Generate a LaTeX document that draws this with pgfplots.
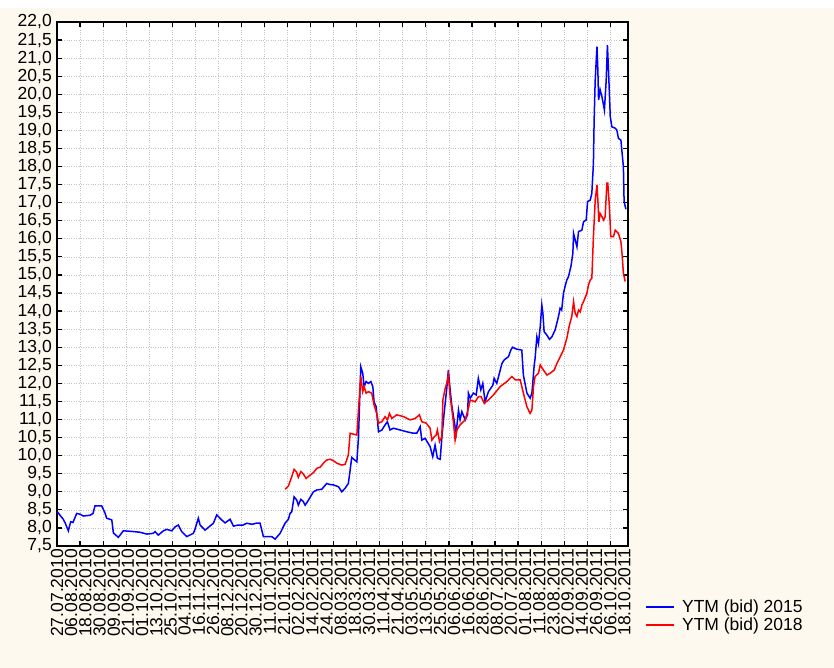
\documentclass[border=0pt]{standalone}
\usepackage{fontspec}
\setmainfont{Liberation Sans}
\usepackage{pgfplots}
\pgfplotsset{compat=1.18}
\definecolor{bgcream}{RGB}{253,249,239}
\definecolor{gridgray}{RGB}{195,195,195}
\begin{document}
\begin{tikzpicture}[x=1pt,y=1pt]
\fill[bgcream] (0,0) rectangle (834,668);
\fill[white] (0,660) rectangle (834,668);
\useasboundingbox (0,0) rectangle (834,668);
\begin{axis}[
  at={(57pt,122pt)}, anchor=south west,
  scale only axis, width=571pt, height=524pt,
  xmin=0, xmax=322, ymin=7.5, ymax=22,
  axis background/.style={fill=white},
  axis line style={line width=1.5pt, black},
  font=\fontsize{17.5}{19}\selectfont,
  tick align=inside,
  major tick length=0pt, minor tick length=5pt,
  every minor tick/.append style={line width=1.2pt, black},
  xtick={0,8,...,320},
  xticklabels={27.07.2010,06.08.2010,18.08.2010,30.08.2010,09.09.2010,21.09.2010,01.10.2010,13.10.2010,25.10.2010,04.11.2010,16.11.2010,26.11.2010,08.12.2010,20.12.2010,30.12.2010,11.01.2011,21.01.2011,02.02.2011,14.02.2011,24.02.2011,08.03.2011,18.03.2011,30.03.2011,11.04.2011,21.04.2011,03.05.2011,13.05.2011,25.05.2011,06.06.2011,16.06.2011,28.06.2011,08.07.2011,20.07.2011,01.08.2011,11.08.2011,23.08.2011,02.09.2011,14.09.2011,26.09.2011,06.10.2011,18.10.2011},
  x tick label style={rotate=90, anchor=east, inner sep=3pt},
  minor xtick={0,13,...,312},
  ytick distance=0.5,
  minor ytick={7.5,8,...,22},
  y tick label style={inner sep=5pt, /pgf/number format/fixed, /pgf/number format/fixed zerofill, /pgf/number format/precision=1, /pgf/number format/use comma, /pgf/number format/assume math mode=true},
  xmajorgrids=false, ymajorgrids=false, xminorgrids=true, yminorgrids=true,
  minor grid style={gridgray, dotted, line width=0.7pt},
  legend style={at={(axis description cs:1.025,-0.095)}, anchor=north west, draw=none, fill=none, font=\fontsize{17.5}{19}\selectfont},
  legend cell align=left,
  legend image code/.code={\draw[#1] (0pt,0pt) -- (28pt,0pt);},
]
\addlegendimage{draw=blue, line width=1.6pt}
\addlegendentry{\hspace{5pt}YTM (bid) 2015}
\addlegendimage{draw=red, line width=1.6pt}
\addlegendentry{\hspace{5pt}YTM (bid) 2018}
\addplot[blue, line width=1.5pt, forget plot] coordinates {
(0.2,8.45)(1.7,8.35)(3.4,8.25)(4.5,8.15)(6.4,7.92)(7.7,8.17)(9.0,8.15)(11.1,8.40)(13.0,8.38)(14.8,8.33)(18.6,8.35)(20.3,8.40)(21.4,8.61)(25.2,8.61)(27.1,8.41)(28.0,8.27)(30.9,8.22)(31.8,7.86)(34.6,7.74)(37.4,7.92)(43.0,7.90)(46.8,7.88)(50.6,7.83)(54.3,7.85)(55.3,7.90)(57.1,7.80)(60.0,7.92)(61.9,7.96)(64.7,7.92)(66.6,8.03)(68.4,8.08)(70.3,7.90)(73.2,7.76)(76.9,7.85)(77.8,7.96)(79.7,8.27)(80.7,8.08)(83.5,7.94)(88.2,8.13)(90.1,8.36)(92.9,8.22)(94.8,8.14)(97.6,8.24)(99.5,8.05)(102.1,8.08)(104.9,8.08)(107.0,8.13)(110.0,8.10)(112.3,8.13)(114.5,8.13)(116.4,7.76)(121.1,7.76)(123.0,7.69)(125.8,7.85)(128.6,8.13)(130.5,8.24)(131.4,8.40)(132.4,8.45)(133.7,8.86)(135.2,8.77)(136.1,8.63)(137.5,8.79)(138.9,8.73)(139.9,8.63)(141.8,8.77)(144.6,9.00)(146.5,9.05)(149.3,9.07)(152.1,9.23)(154.0,9.20)(155.9,9.19)(158.7,9.14)(160.6,9.00)(162.5,9.10)(164.3,9.23)(165.3,9.60)(166.2,9.95)(169.1,9.83)(170.0,10.50)(171.3,12.46)(172.4,12.28)(173.2,11.91)(174.3,12.05)(175.6,12.00)(177.0,12.05)(178.1,11.91)(178.8,11.49)(180.0,11.35)(181.3,10.66)(183.2,10.71)(185.0,10.85)(186.3,10.94)(187.8,10.71)(189.7,10.76)(193.5,10.71)(197.3,10.66)(201.0,10.62)(202.9,10.62)(204.8,10.80)(205.7,10.43)(207.6,10.48)(210.4,10.25)(211.9,9.97)(213.2,10.29)(214.5,9.93)(216.1,9.90)(217.0,10.48)(218.3,11.17)(219.8,11.86)(220.7,12.37)(221.7,11.82)(222.6,11.40)(223.6,11.08)(225.1,10.62)(226.4,11.26)(227.3,10.99)(228.3,11.22)(230.2,10.99)(231.5,11.13)(232.0,11.73)(233.0,11.59)(234.8,11.73)(236.4,11.68)(237.6,12.14)(239.0,11.82)(240.1,12.00)(241.4,11.49)(243.3,11.77)(245.8,11.95)(246.5,12.14)(248.0,12.00)(250.9,12.55)(252.2,12.65)(254.6,12.74)(255.9,12.92)(256.9,13.00)(259.0,12.95)(262.1,12.92)(263.0,12.23)(265.0,11.73)(266.8,11.59)(267.8,11.73)(269.1,12.50)(269.6,12.69)(270.6,13.29)(271.5,13.10)(272.5,13.57)(273.4,14.17)(274.0,13.94)(274.7,13.43)(276.2,13.34)(277.7,13.22)(279.1,13.29)(280.9,13.48)(282.8,13.85)(283.7,14.08)(284.6,14.03)(285.6,14.49)(286.5,14.68)(287.5,14.86)(288.4,14.95)(289.8,15.23)(290.9,15.60)(291.3,16.15)(292.2,15.97)(293.2,15.78)(294.1,16.20)(296.0,16.24)(296.9,16.47)(298.4,16.52)(299.2,17.03)(300.7,17.07)(301.6,17.26)(302.5,18.09)(302.9,19.29)(303.5,20.39)(304.5,21.32)(305.0,20.67)(305.4,19.84)(306.3,20.12)(307.3,19.93)(308.2,19.70)(308.7,19.56)(309.7,20.39)(310.4,21.36)(311.0,20.67)(312.0,19.38)(312.9,19.10)(314.8,19.06)(315.7,19.01)(316.6,18.78)(318.0,18.73)(318.5,18.46)(319.4,18.00)(319.8,17.03)(320.8,16.82)
};
\addplot[red, line width=1.5pt, forget plot] coordinates {
(128.6,9.07)(130.5,9.16)(132.4,9.42)(133.7,9.62)(135.1,9.55)(136.1,9.40)(137.5,9.56)(138.8,9.50)(140.5,9.37)(142.7,9.46)(144.6,9.53)(146.5,9.65)(148.4,9.68)(150.2,9.79)(152.1,9.88)(154.0,9.90)(155.9,9.86)(157.8,9.79)(160.6,9.74)(162.5,9.76)(164.3,10.02)(165.3,10.62)(169.1,10.57)(170.0,11.26)(171.3,12.19)(172.4,11.77)(173.2,11.91)(174.3,11.73)(175.6,11.77)(177.5,11.73)(178.8,11.40)(180.3,11.17)(181.3,10.90)(183.2,10.94)(185.0,11.08)(186.3,10.99)(187.5,11.17)(188.8,11.03)(191.6,11.13)(195.4,11.08)(199.1,10.99)(202.0,11.03)(204.4,11.13)(205.7,10.94)(208.2,10.90)(210.4,10.76)(211.4,10.43)(212.7,10.52)(213.8,10.57)(214.5,10.71)(215.7,10.39)(217.0,10.52)(217.6,11.54)(218.9,11.86)(219.8,12.00)(220.7,12.23)(221.7,11.63)(222.6,11.31)(223.6,10.90)(224.5,10.43)(225.5,10.71)(227.3,10.85)(230.2,10.99)(232.0,11.31)(233.0,11.54)(235.8,11.49)(237.6,11.63)(239.2,11.63)(240.9,11.45)(243.3,11.54)(246.1,11.68)(249.9,11.91)(253.7,12.05)(256.5,12.19)(258.4,12.10)(261.2,12.10)(263.0,11.73)(265.0,11.35)(266.8,11.17)(267.8,11.26)(268.7,11.91)(269.6,12.19)(271.5,12.28)(272.5,12.51)(274.3,12.37)(276.3,12.23)(278.1,12.28)(280.4,12.37)(281.9,12.55)(283.8,12.74)(285.6,12.92)(287.5,13.25)(289.0,13.62)(290.3,13.85)(291.3,14.26)(292.2,13.94)(293.2,13.85)(294.1,14.03)(295.1,13.98)(296.0,14.17)(296.9,14.26)(298.8,14.49)(299.7,14.72)(300.7,14.86)(301.6,14.91)(302.5,16.06)(303.5,17.07)(304.5,17.49)(305.0,17.07)(305.6,16.47)(306.3,16.70)(307.3,16.61)(308.2,16.52)(309.1,16.61)(310.1,17.54)(310.6,17.54)(311.5,16.89)(312.3,16.06)(313.8,16.06)(314.8,16.24)(316.6,16.15)(318.0,15.92)(318.7,15.55)(319.4,15.05)(320.4,14.82)
};
\end{axis}
\end{tikzpicture}
\end{document}
